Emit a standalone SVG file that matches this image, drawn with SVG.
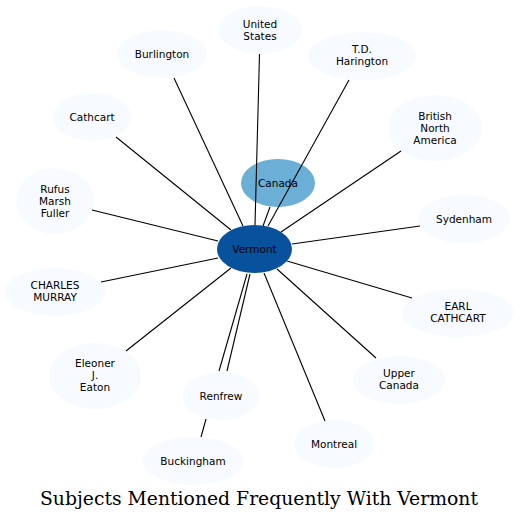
<svg xmlns="http://www.w3.org/2000/svg" width="520" height="521" viewBox="0 0 520 521">
<style>
.n{fill:#f7fbff;stroke:none}
text{font-family:"DejaVu Sans",sans-serif;font-size:10.5px;fill:#000;text-anchor:middle}
.e line{stroke:#000;stroke-width:1.1;fill:none}
.t{font-family:"DejaVu Serif",serif;font-size:18.8px}
</style>
<rect width="520" height="521" fill="#fff"/>
<g id="n-us"><ellipse class="n" cx="260" cy="30" rx="42" ry="24"/><text x="260" y="27.5">United</text><text x="260" y="39.5">States</text></g>
<g id="n-burlington"><ellipse class="n" cx="162" cy="54" rx="45" ry="24"/><text x="162" y="57.5">Burlington</text></g>
<g id="n-harington"><ellipse class="n" cx="362" cy="56" rx="54" ry="24"/><text x="362" y="53">T.D.</text><text x="362" y="65">Harington</text></g>
<g id="n-cathcart"><ellipse class="n" cx="92" cy="117" rx="39" ry="24"/><text x="92" y="120.5">Cathcart</text></g>
<g id="n-bna"><ellipse class="n" cx="435" cy="128" rx="47" ry="33"/><text x="435" y="119.5">British</text><text x="435" y="131.5">North</text><text x="435" y="143.5">America</text></g>
<g id="n-rufus"><ellipse class="n" cx="55" cy="201" rx="39" ry="33"/><text x="55" y="192.5">Rufus</text><text x="55" y="204.5">Marsh</text><text x="55" y="216.5">Fuller</text></g>
<g id="n-sydenham"><ellipse class="n" cx="464" cy="219" rx="46" ry="24"/><text x="464" y="222.5">Sydenham</text></g>
<g id="n-murray"><ellipse class="n" cx="55" cy="292" rx="50" ry="24"/><text x="55" y="289">CHARLES</text><text x="55" y="301">MURRAY</text></g>
<g id="n-earl"><ellipse class="n" cx="458" cy="313" rx="56" ry="24"/><text x="458" y="310">EARL</text><text x="458" y="322">CATHCART</text></g>
<g id="n-upper"><ellipse class="n" cx="399" cy="380" rx="46" ry="24"/><text x="399" y="377">Upper</text><text x="399" y="389">Canada</text></g>
<g id="n-eaton"><ellipse class="n" cx="95" cy="376" rx="46" ry="33"/><text x="95" y="367">Eleoner</text><text x="95" y="379">J.</text><text x="95" y="391">Eaton</text></g>
<g id="n-renfrew"><ellipse class="n" cx="221" cy="396" rx="38" ry="24"/><text x="221" y="399.5">Renfrew</text></g>
<g id="n-buckingham"><ellipse class="n" cx="193" cy="461" rx="50" ry="24"/><text x="193" y="464.5">Buckingham</text></g>
<g id="n-montreal"><ellipse class="n" cx="334" cy="444" rx="40" ry="24"/><text x="334" y="447.5">Montreal</text></g>
<g id="n-canada"><ellipse cx="278" cy="183" rx="37" ry="24" fill="#6baed6"/><text x="278" y="186.5">Canada</text></g>
<g id="n-vermont"><ellipse cx="254.5" cy="249" rx="37.5" ry="24" fill="#08519c"/><text x="254.5" y="252.5">Vermont</text></g>
<g id="connectors" class="e">
<line x1="255" y1="225" x2="259.5" y2="54"/>
<line x1="243" y1="226" x2="174" y2="78"/>
<line x1="268" y1="226" x2="349" y2="80"/>
<line x1="263" y1="226" x2="270" y2="207"/>
<line x1="231" y1="230" x2="116" y2="137"/>
<line x1="281" y1="232" x2="401" y2="151"/>
<line x1="218" y1="241" x2="92" y2="210"/>
<line x1="292" y1="244" x2="420" y2="226"/>
<line x1="218" y1="258" x2="101" y2="282"/>
<line x1="287" y1="261" x2="412" y2="298"/>
<line x1="277" y1="269" x2="376" y2="358"/>
<line x1="231" y1="268" x2="126" y2="351"/>
<line x1="247" y1="274" x2="219" y2="371"/>
<line x1="250" y1="274" x2="227" y2="371"/>
<line x1="264" y1="273" x2="325" y2="421"/>
<line x1="206" y1="419" x2="201" y2="437"/>
</g>
<text class="t" x="259" y="505">Subjects Mentioned Frequently With Vermont</text>
</svg>
